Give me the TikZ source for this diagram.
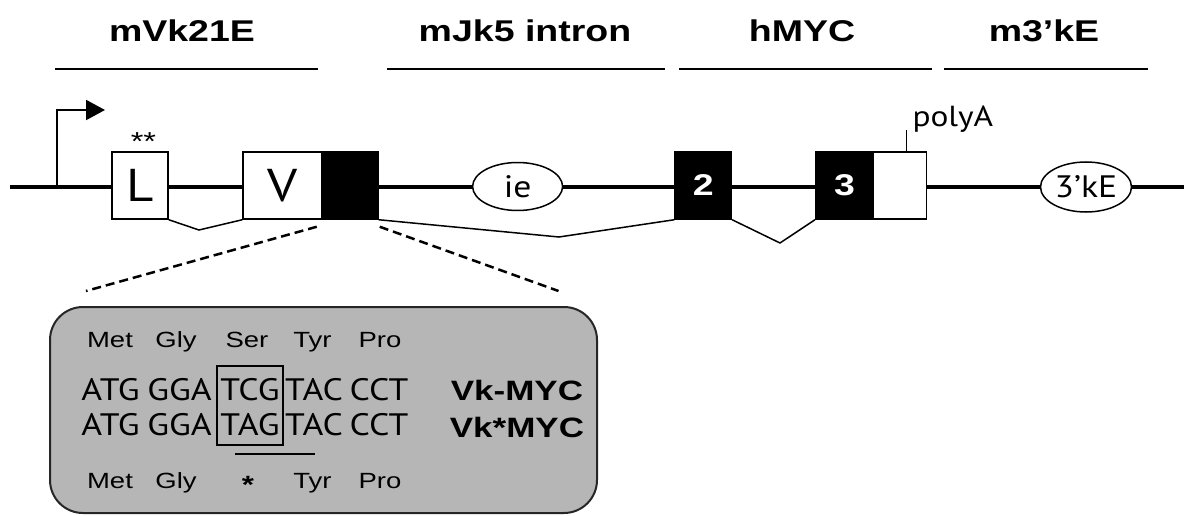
\documentclass[tikz,border=0pt]{standalone}
\usepackage{fontspec}
\setmainfont{Liberation Sans}[FakeStretch=1.25]
\newfontfamily\seqfont{PT Sans}[FakeStretch=1.15]
\usetikzlibrary{arrows.meta,shapes}

\begin{document}
\begin{tikzpicture}[x=1pt,y=-1pt]

		\definecolor{boxgray}{RGB}{182,182,182}

		\tikzstyle{edge} = [draw,-,line width=1.5pt]
		\tikzstyle{backbone} = [draw,-,line width=3.5pt]
		\tikzstyle{bar} = [draw,-,line width=2.5pt]
		\tikzstyle{zoomline} = [draw,-,line width=2.5pt,dash pattern=on 9pt off 5pt]

		\useasboundingbox (0,0) rectangle (1184,516);

		% regions
		\tikzset{region/.style = {anchor=base,font=\fontsize{30}{30}\selectfont\bfseries}}
		\node[region] (rvk) at (182,42) {mVk21E};
		\node[region] (rjk) at (525,42) {mJk5 intron};
		\node[region] (rmyc) at (802,42) {hMYC};
		\node[region] (rke) at (1044,42) {m3’kE};
		\draw[bar] (55,69) -- (318,69);
		\draw[bar] (387,69) -- (665,69);
		\draw[bar] (679,69) -- (932,69);
		\draw[bar] (944,69) -- (1148,69);

		\coordinate (west) at (10,187);
		\coordinate (east) at (1184,187);
		\draw[backbone] (west) -- (east);

		\tikzset{exon/.style = {shape=rectangle,draw,line width=1.5pt,fill=white,inner sep=0pt,minimum height=67pt}}
		\node[exon,minimum width=56pt] (L) at (140,185.5) {\seqfont\fontsize{46}{46}\selectfont L};
		\node[exon,minimum width=78.5pt] (V) at (282.25,185.5) {\seqfont\fontsize{46}{46}\selectfont V};
		\node[exon,minimum width=53.2pt] (e3w) at (900.1,185.5) {};

		\tikzset{exon/.style = {shape=rectangle,draw,line width=1.5pt,fill=black,text=white,inner sep=0pt,minimum height=67pt,font=\fontsize{30}{30}\selectfont\bfseries}}
		\node[exon,minimum width=56.5pt] (blk) at (349.75,185.5) {};
		\node[exon,minimum width=56.4pt] (e2) at (703.2,185.5) {2};
		\node[exon,minimum width=57.8pt] (e3) at (844.6,185.5) {3};

		\tikzset{enh/.style = {shape=ellipse,draw,line width=1.5pt,fill=white,inner sep=0pt,font=\seqfont\fontsize{31}{31}\selectfont}}
		\node[enh,minimum width=90pt,minimum height=48pt] (ie) at (517.6,186.5) {ie};
		\node[enh,minimum width=91pt,minimum height=50pt] (ke) at (1086,187) {3’kE};

		% promoter
		\coordinate (tss) at (57,187);
		\coordinate (tsstip) at (105,110);
		\draw[line width=2pt,-{Triangle[length=19pt,width=20pt]}] (tss) |- (tsstip);
		\node[font=\fontsize{26}{26}\selectfont] (stars) at (143.5,142) {**};

		\draw[edge] ([xshift=6.6pt]e3w.north) -- ++(0,-21);
		\node[anchor=base west,font=\seqfont\fontsize{29}{29}\selectfont] (polya) at (909,127) {polyA};

		% splicing
		\draw[edge] (L.south east) -- (199,230) -- (V.south west);
		\draw[edge] (blk.south east) -- (559,237) -- (e2.south west);
		\draw[edge] (e2.south east) -- (780,243) -- (e3.south west);

		% sequence box
		\node[draw=black!85,line width=2pt,fill=boxgray,rounded corners=33pt,inner sep=0pt,minimum width=547pt,minimum height=206pt] (seqbox) at (323.5,410) {};
		\coordinate (zl) at (86,291);
		\coordinate (zr) at (558.5,291);
		\draw[zoomline] ([shift={(-4,7)}]blk.south west) -- (zl);
		\draw[zoomline] ([shift={(1,7)}]blk.south east) -- (zr);

		\tikzset{codon/.style = {anchor=base,font=\seqfont\fontsize{31}{31}\selectfont}}
		\tikzset{amino/.style = {anchor=base,font=\fontsize{22}{22}\selectfont}}
		\foreach \x/\a/\b [count=\i] in {110.5/ATG/ATG,179.5/GGA/GGA,250/TCG/TAG,314/TAC/TAC,379/CCT/CCT}{
			\node[codon] (wt\i) at (\x,400) {\a};
			\node[codon] (mu\i) at (\x,435) {\b};
		}
		\foreach \x/\a [count=\i] in {110/Met,176/Gly,247/Ser,312.5/Tyr,380/Pro}
			\node[amino] (aa\i) at (\x,347) {\a};
		\node[amino] (ab1) at (110,488) {Met};
		\node[amino] (ab2) at (176,488) {Gly};
		\node[font=\fontsize{25}{25}\selectfont\bfseries] (ab3) at (248,485) {*};
		\node[amino] (ab4) at (312.5,488) {Tyr};
		\node[amino] (ab5) at (380,488) {Pro};

		\node[draw,line width=1.5pt,inner sep=0pt,minimum width=66pt,minimum height=79pt] (mut) at (250,405.5) {};
		\draw[bar] (235,454) -- (315,454);

		\node[anchor=base,font=\fontsize{28}{28}\selectfont\bfseries] (vkmyc) at (517,400) {Vk-MYC};
		\node[anchor=base,font=\fontsize{28}{28}\selectfont\bfseries] (vksmyc) at (517,437) {Vk*MYC};

\end{tikzpicture}
\end{document}
